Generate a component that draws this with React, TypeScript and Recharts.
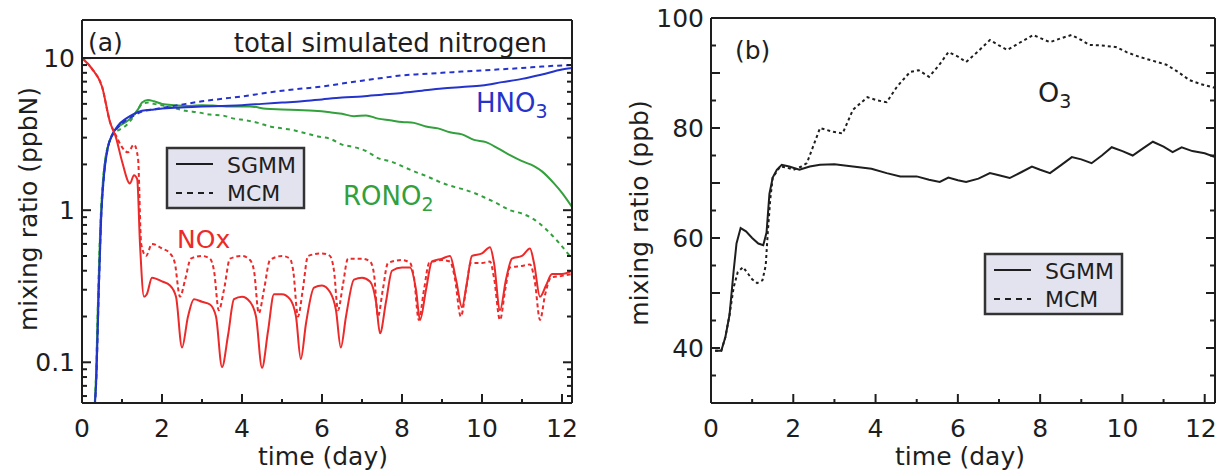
import React from 'react';
import { LineChart, Line, XAxis, YAxis, ReferenceLine } from 'recharts';

const FONT = '"DejaVu Sans", Verdana, sans-serif';
const INK = '#1e1e1e';
const BLUE = '#2433cc';
const GREEN = '#32a03c';
const RED = '#ec2a2a';

// ---- panel (a): mixing ratio (ppbN) vs time (day), log axis
const hno3Sgmm: [number, number][] = [
  [0.3, 0.045], [0.36, 0.08], [0.42, 0.3], [0.48, 0.9], [0.55, 1.7], [0.65, 2.6], [0.75, 3.1],
  [0.9, 3.6], [1.1, 4.0], [1.3, 4.3], [1.5, 4.5], [1.8, 4.6], [2.2, 4.7], [2.6, 4.75], [3, 4.8],
  [3.5, 4.85], [4, 4.9], [4.5, 5.0], [5, 5.1], [5.5, 5.2], [6, 5.35], [6.5, 5.5], [7, 5.6],
  [7.5, 5.75], [8, 5.9], [8.5, 6.1], [9, 6.3], [9.5, 6.45], [10, 6.6], [10.5, 6.95], [11, 7.3],
  [11.5, 7.8], [12, 8.4], [12.25, 8.6],
];
const hno3Mcm: [number, number][] = [
  [0.3, 0.045], [0.36, 0.08], [0.42, 0.3], [0.48, 0.9], [0.55, 1.7], [0.65, 2.6], [0.75, 3.1],
  [0.9, 3.5], [1.1, 3.9], [1.3, 4.2], [1.5, 4.45], [1.8, 4.6], [2.2, 4.8], [2.6, 5.0], [3, 5.2],
  [3.5, 5.4], [4, 5.6], [4.5, 5.85], [5, 6.1], [5.5, 6.3], [6, 6.5], [6.5, 6.8], [7, 7.1],
  [7.5, 7.4], [8, 7.7], [8.5, 7.85], [9, 8.0], [9.5, 8.15], [10, 8.3], [10.5, 8.45], [11, 8.6],
  [11.5, 8.8], [12, 8.95], [12.25, 9.0],
];
const rono2Sgmm: [number, number][] = [
  [0.3, 0.045], [0.35, 0.08], [0.4, 0.25], [0.46, 0.8], [0.52, 1.5], [0.6, 2.3], [0.7, 2.9],
  [0.8, 3.3], [0.95, 3.6], [1.1, 3.8], [1.25, 4.1], [1.4, 4.6], [1.5, 5.1], [1.65, 5.3],
  [1.8, 5.2], [2.0, 5.0], [2.3, 4.9], [2.7, 4.85], [3.0, 4.9], [3.4, 4.85], [3.8, 4.8],
  [4.2, 4.8], [4.6, 4.65], [5.0, 4.6], [5.4, 4.55], [5.8, 4.5], [6.2, 4.4], [6.5, 4.3],
  [6.8, 4.15], [7.1, 4.2], [7.4, 4.0], [7.7, 3.9], [8.0, 3.8], [8.3, 3.75], [8.6, 3.55],
  [8.9, 3.45], [9.2, 3.25], [9.5, 3.15], [9.8, 2.9], [10.1, 2.8], [10.4, 2.55], [10.7, 2.3],
  [11.0, 2.1], [11.3, 1.95], [11.5, 1.8], [11.8, 1.5], [12.0, 1.3], [12.25, 1.05],
];
const rono2Mcm: [number, number][] = [
  [0.3, 0.045], [0.35, 0.08], [0.4, 0.25], [0.46, 0.8], [0.52, 1.5], [0.6, 2.3], [0.7, 2.9],
  [0.8, 3.2], [0.95, 3.4], [1.1, 3.6], [1.25, 4.0], [1.4, 4.6], [1.5, 5.0], [1.65, 5.1],
  [1.8, 5.0], [2.0, 4.9], [2.3, 4.7], [2.6, 4.5], [2.9, 4.4], [3.2, 4.25], [3.5, 4.2],
  [3.8, 4.0], [4.1, 3.9], [4.4, 3.75], [4.7, 3.55], [5.0, 3.45], [5.3, 3.35], [5.6, 3.2],
  [5.9, 3.05], [6.2, 2.95], [6.5, 2.7], [6.8, 2.6], [7.1, 2.45], [7.4, 2.2], [7.7, 2.1],
  [8.0, 1.95], [8.3, 1.8], [8.6, 1.68], [8.9, 1.55], [9.2, 1.45], [9.5, 1.38], [9.8, 1.3],
  [10.1, 1.2], [10.4, 1.1], [10.7, 1.0], [11.0, 0.95], [11.3, 0.87], [11.6, 0.75],
  [11.9, 0.62], [12.25, 0.48],
];
const noxSgmm: [number, number][] = [
  [0, 10], [0.25, 8.5], [0.5, 6.5], [0.7, 3.8], [0.85, 3.0], [1.0, 2.1], [1.2, 1.5], [1.3, 1.7],
  [1.38, 1.6], [1.45, 0.6], [1.55, 0.27], [1.62, 0.28], [1.75, 0.36], [2.0, 0.34], [2.2, 0.32],
  [2.35, 0.27], [2.5, 0.125], [2.65, 0.2], [2.8, 0.26], [3.0, 0.25], [3.2, 0.24], [3.35, 0.2],
  [3.5, 0.093], [3.65, 0.15], [3.8, 0.26], [4.0, 0.27], [4.2, 0.25], [4.35, 0.2], [4.5, 0.092],
  [4.65, 0.16], [4.8, 0.28], [5.0, 0.28], [5.2, 0.26], [5.35, 0.2], [5.47, 0.105], [5.6, 0.18],
  [5.8, 0.31], [6.0, 0.32], [6.2, 0.29], [6.35, 0.22], [6.47, 0.125], [6.6, 0.2], [6.8, 0.35],
  [7.0, 0.36], [7.2, 0.34], [7.35, 0.25], [7.45, 0.155], [7.6, 0.25], [7.75, 0.4], [8.0, 0.42],
  [8.2, 0.42], [8.35, 0.3], [8.45, 0.19], [8.6, 0.3], [8.75, 0.46], [9.0, 0.48], [9.2, 0.5],
  [9.35, 0.35], [9.5, 0.23], [9.62, 0.33], [9.75, 0.5], [10.0, 0.52], [10.2, 0.57], [10.3, 0.45],
  [10.45, 0.22], [10.6, 0.35], [10.75, 0.48], [11.0, 0.5], [11.2, 0.56], [11.3, 0.45],
  [11.45, 0.27], [11.6, 0.32], [11.75, 0.38], [12.0, 0.38], [12.25, 0.4],
];
const noxMcm: [number, number][] = [
  [0, 10], [0.25, 8.5], [0.5, 6.5], [0.7, 3.8], [0.85, 3.1], [1.0, 2.6], [1.15, 2.4], [1.3, 2.7],
  [1.4, 2.2], [1.48, 0.6], [1.6, 0.5], [1.75, 0.6], [2.0, 0.56], [2.2, 0.52], [2.32, 0.45],
  [2.45, 0.27], [2.58, 0.35], [2.72, 0.48], [3.0, 0.5], [3.2, 0.48], [3.3, 0.4], [3.42, 0.22],
  [3.55, 0.3], [3.7, 0.48], [4.0, 0.5], [4.2, 0.47], [4.3, 0.4], [4.42, 0.21], [4.55, 0.3],
  [4.7, 0.47], [5.0, 0.5], [5.2, 0.48], [5.28, 0.4], [5.4, 0.2], [5.52, 0.3], [5.65, 0.5],
  [6.0, 0.52], [6.2, 0.5], [6.3, 0.4], [6.4, 0.22], [6.52, 0.32], [6.65, 0.48], [7.0, 0.48],
  [7.2, 0.46], [7.3, 0.38], [7.4, 0.2], [7.52, 0.3], [7.65, 0.45], [8.0, 0.47], [8.2, 0.45],
  [8.3, 0.36], [8.42, 0.19], [8.55, 0.3], [8.68, 0.45], [9.0, 0.47], [9.2, 0.46], [9.32, 0.36],
  [9.47, 0.2], [9.6, 0.3], [9.72, 0.45], [10.0, 0.45], [10.2, 0.46], [10.3, 0.36], [10.45, 0.19],
  [10.58, 0.3], [10.7, 0.42], [11.0, 0.43], [11.2, 0.44], [11.32, 0.34], [11.45, 0.19],
  [11.58, 0.28], [11.72, 0.36], [12.0, 0.37], [12.25, 0.38],
];
const totalNitrogen = 10;

// ---- panel (b): O3 mixing ratio (ppb)
const o3Sgmm: [number, number][] = [
  [0.1, 39.5], [0.25, 39.5], [0.35, 42], [0.45, 46], [0.55, 54], [0.62, 59], [0.72, 61.8],
  [0.85, 61.2], [1.0, 60], [1.15, 59], [1.27, 58.7], [1.35, 61], [1.42, 68], [1.5, 71],
  [1.6, 72.4], [1.72, 73.3], [1.9, 73], [2.15, 72.4], [2.4, 73], [2.65, 73.3], [3.0, 73.4],
  [3.45, 73], [3.9, 72.6], [4.27, 71.8], [4.6, 71.2], [5.0, 71.2], [5.3, 70.6], [5.56, 70.2],
  [5.77, 71], [6.0, 70.5], [6.2, 70.2], [6.5, 70.8], [6.78, 71.8], [7.0, 71.4], [7.26, 70.9],
  [7.55, 72], [7.8, 73], [8.0, 72.4], [8.24, 71.8], [8.5, 73.2], [8.77, 74.7], [9.0, 74.3],
  [9.25, 73.6], [9.5, 75], [9.74, 76.5], [10.0, 75.8], [10.25, 75], [10.5, 76.3], [10.74, 77.5],
  [11.0, 76.6], [11.22, 75.6], [11.44, 76.5], [11.7, 75.8], [12.0, 75.4], [12.25, 74.7],
];
const o3Mcm: [number, number][] = [
  [0.1, 39.5], [0.25, 39.5], [0.35, 42], [0.45, 46], [0.55, 51], [0.65, 53.8], [0.78, 54.7],
  [0.9, 53.5], [1.0, 52.5], [1.12, 51.8], [1.25, 52.3], [1.33, 55], [1.38, 61], [1.44, 67],
  [1.5, 71], [1.68, 73], [1.85, 72.8], [2.0, 72.4], [2.2, 73], [2.33, 73.6], [2.5, 77],
  [2.65, 80], [2.97, 79.3], [3.2, 79], [3.45, 83.3], [3.8, 85.6], [4.05, 85], [4.27, 84.7],
  [4.52, 87.5], [4.84, 90.2], [5.05, 90.5], [5.3, 89.3], [5.55, 91.5], [5.77, 93.8], [6.0, 93],
  [6.2, 92], [6.5, 94], [6.78, 96], [7.0, 95], [7.2, 94.2], [7.5, 95.5], [7.83, 96.9],
  [8.05, 96.2], [8.24, 95.6], [8.5, 96.3], [8.76, 96.9], [9.0, 96], [9.2, 95.1], [9.5, 95],
  [9.86, 94.7], [10.1, 93.8], [10.42, 92.9], [10.75, 92.2], [11.07, 91.5], [11.35, 90.2],
  [11.63, 88.7], [11.9, 88], [12.25, 87.3],
];

const dayTicks = [0, 1, 2, 3, 4, 5, 6, 7, 8, 9, 10, 11, 12];
const logTicks = [
  0.06, 0.07, 0.08, 0.09, 0.1, 0.2, 0.3, 0.4, 0.5, 0.6, 0.7, 0.8, 0.9,
  1, 2, 3, 4, 5, 6, 7, 8, 9, 10,
];
const o3Ticks = [30, 35, 40, 45, 50, 55, 60, 65, 70, 75, 80, 85, 90, 95, 100];

const rows = (pts: [number, number][]) => pts.map(([t, v]) => ({ t, v }));

const txt = { fontFamily: FONT, fill: INK };

// ticks point inward; labels only on major ones
const xTick = (side: 'top' | 'bottom', lastShift = 0) => (p: any) => {
  const v = p.payload.value;
  const major = v % 2 === 0;
  const dir = side === 'bottom' ? -1 : 1;
  const last = v === 12 && lastShift !== 0;
  return (
    <g>
      <line x1={p.x} x2={p.x} y1={p.y} y2={p.y + dir * (major ? 9 : 4)} stroke={INK} strokeWidth={2} />
      {side === 'bottom' && major && (
        <text x={last ? p.x + lastShift : p.x} y={p.y + 34} textAnchor={last ? 'end' : 'middle'}
          fontSize={25} {...txt}>{v}</text>
      )}
    </g>
  );
};

const isDecade = (v: number) => Math.abs(Math.log10(v) - Math.round(Math.log10(v))) < 1e-6;

const yTick = (
  side: 'left' | 'right',
  major: (v: number) => boolean,
  labeled: (v: number) => boolean,
) => (p: any) => {
  const v = p.payload.value;
  const dir = side === 'left' ? 1 : -1;
  return (
    <g>
      <line x1={p.x} x2={p.x + dir * (major(v) ? 9 : 5)} y1={p.y} y2={p.y} stroke={INK} strokeWidth={2} />
      {side === 'left' && labeled(v) && (
        <text x={p.x - 7} y={p.y + 9} textAnchor="end" fontSize={25} {...txt}>{v}</text>
      )}
    </g>
  );
};

const axisLine = { stroke: INK, strokeWidth: 2 };

const Legend = ({ x, y }: { x: number; y: number }) => (
  <g>
    <rect x={x} y={y} width={137} height={60} fill="#e3e3ef" stroke="#333" strokeWidth={2.5} />
    <line x1={x + 9} x2={x + 46} y1={y + 16} y2={y + 16} stroke={INK} strokeWidth={2} />
    <line x1={x + 9} x2={x + 46} y1={y + 45} y2={y + 45} stroke={INK} strokeWidth={2} strokeDasharray="6 5" />
    <text x={x + 60} y={y + 25} fontSize={22} {...txt}>SGMM</text>
    <text x={x + 60} y={y + 53} fontSize={22} {...txt}>MCM</text>
  </g>
);

export default function App() {
  return (
    <div style={{ position: 'absolute', left: 0, top: 0, width: 1218, height: 476, background: '#fff' }}>
      <div style={{ position: 'absolute', left: 0, top: 0 }}>
        <LineChart width={600} height={476} margin={{ top: 19, right: 27, bottom: 43, left: 0 }}>
          <XAxis dataKey="t" type="number" domain={[0, 12.25]} ticks={dayTicks} interval={0}
            allowDataOverflow height={30} axisLine={axisLine} tickLine={false} tickSize={0}
            tickMargin={0} tick={xTick('bottom')} />
          <XAxis xAxisId="top" orientation="top" dataKey="t" type="number" domain={[0, 12.25]}
            ticks={dayTicks} interval={0} height={1} axisLine={axisLine} tickLine={false}
            tickSize={0} tickMargin={0} tick={xTick('top')} />
          <YAxis type="number" scale="log" domain={[0.054, 17.8]} ticks={logTicks} interval={0}
            allowDataOverflow width={82} axisLine={axisLine} tickLine={false} tickSize={0}
            tickMargin={0} tick={yTick('left', isDecade, isDecade)} />
          <YAxis yAxisId="right" orientation="right" type="number" scale="log"
            domain={[0.054, 17.8]} ticks={logTicks} interval={0} allowDataOverflow width={1}
            axisLine={axisLine} tickLine={false} tickSize={0} tickMargin={0}
            tick={yTick('right', isDecade, () => false)} />
          <ReferenceLine y={totalNitrogen} stroke={INK} strokeWidth={2} />
          <Line data={rows(rono2Mcm)} dataKey="v" name="RONO2 MCM" type="monotone" stroke={GREEN}
            strokeWidth={2} strokeDasharray="4 4" dot={false} isAnimationActive={false} />
          <Line data={rows(rono2Sgmm)} dataKey="v" name="RONO2 SGMM" type="monotone" stroke={GREEN}
            strokeWidth={2} dot={false} isAnimationActive={false} />
          <Line data={rows(hno3Mcm)} dataKey="v" name="HNO3 MCM" type="monotone" stroke={BLUE}
            strokeWidth={2} strokeDasharray="5 4" dot={false} isAnimationActive={false} />
          <Line data={rows(hno3Sgmm)} dataKey="v" name="HNO3 SGMM" type="monotone" stroke={BLUE}
            strokeWidth={2} dot={false} isAnimationActive={false} />
          <Line data={rows(noxMcm)} dataKey="v" name="NOx MCM" type="monotone" stroke={RED}
            strokeWidth={2} strokeDasharray="4 3" dot={false} isAnimationActive={false} />
          <Line data={rows(noxSgmm)} dataKey="v" name="NOx SGMM" type="monotone" stroke={RED}
            strokeWidth={2} dot={false} isAnimationActive={false} />
        </LineChart>
      </div>

      <div style={{ position: 'absolute', left: 620, top: 0 }}>
        <LineChart width={598} height={476} margin={{ top: 17, right: 2, bottom: 43, left: 0 }}>
          <XAxis dataKey="t" type="number" domain={[0, 12.25]} ticks={dayTicks} interval={0}
            allowDataOverflow height={30} axisLine={axisLine} tickLine={false} tickSize={0}
            tickMargin={0} tick={xTick('bottom', 12)} />
          <XAxis xAxisId="top" orientation="top" dataKey="t" type="number" domain={[0, 12.25]}
            ticks={dayTicks} interval={0} height={1} axisLine={axisLine} tickLine={false}
            tickSize={0} tickMargin={0} tick={xTick('top')} />
          <YAxis type="number" domain={[30, 100]} ticks={o3Ticks} interval={0} allowDataOverflow
            width={91} axisLine={axisLine} tickLine={false} tickSize={0} tickMargin={0}
            tick={yTick('left', (v) => v % 10 === 0, (v) => v % 20 === 0)} />
          <YAxis yAxisId="right" orientation="right" type="number" domain={[30, 100]}
            ticks={o3Ticks} interval={0} allowDataOverflow width={1} axisLine={axisLine}
            tickLine={false} tickSize={0} tickMargin={0}
            tick={yTick('right', (v) => v % 10 === 0, () => false)} />
          <Line data={rows(o3Mcm)} dataKey="v" name="O3 MCM" type="linear" stroke={INK}
            strokeWidth={2} strokeDasharray="3 3" dot={false} isAnimationActive={false} />
          <Line data={rows(o3Sgmm)} dataKey="v" name="O3 SGMM" type="linear" stroke={INK}
            strokeWidth={2} dot={false} isAnimationActive={false} />
        </LineChart>
      </div>

      <svg width={1218} height={476} style={{ position: 'absolute', left: 0, top: 0, pointerEvents: 'none' }}>
        {/* panel (a) */}
        <text x={88} y={51} fontSize={25} {...txt}>(a)</text>
        <text x={547} y={52} fontSize={26} textAnchor="end" {...txt}>total simulated nitrogen</text>
        <text x={476} y={112} fontSize={26} fontFamily={FONT} fill={BLUE}>
          HNO<tspan fontSize={19} dy={6}>3</tspan>
        </text>
        <text x={343} y={205} fontSize={26} fontFamily={FONT} fill={GREEN}>
          RONO<tspan fontSize={19} dy={6}>2</tspan>
        </text>
        <text x={177} y={248} fontSize={25} fontFamily={FONT} fill={RED}>NOx</text>
        <Legend x={167} y={148} />
        <text transform="translate(37,209) rotate(-90)" textAnchor="middle" fontSize={25} {...txt}>
          mixing ratio (ppbN)
        </text>
        <text x={323} y={465} textAnchor="middle" fontSize={25} {...txt}>time (day)</text>

        {/* panel (b) */}
        <text x={735} y={59} fontSize={25} {...txt}>(b)</text>
        <text x={1038} y={102} fontSize={27} {...txt}>
          O<tspan fontSize={19} dy={6}>3</tspan>
        </text>
        <Legend x={985} y={254} />
        <text transform="translate(648,213) rotate(-90)" textAnchor="middle" fontSize={25} {...txt}>
          mixing ratio (ppb)
        </text>
        <text x={960} y={465} textAnchor="middle" fontSize={25} {...txt}>time (day)</text>
      </svg>
    </div>
  );
}
